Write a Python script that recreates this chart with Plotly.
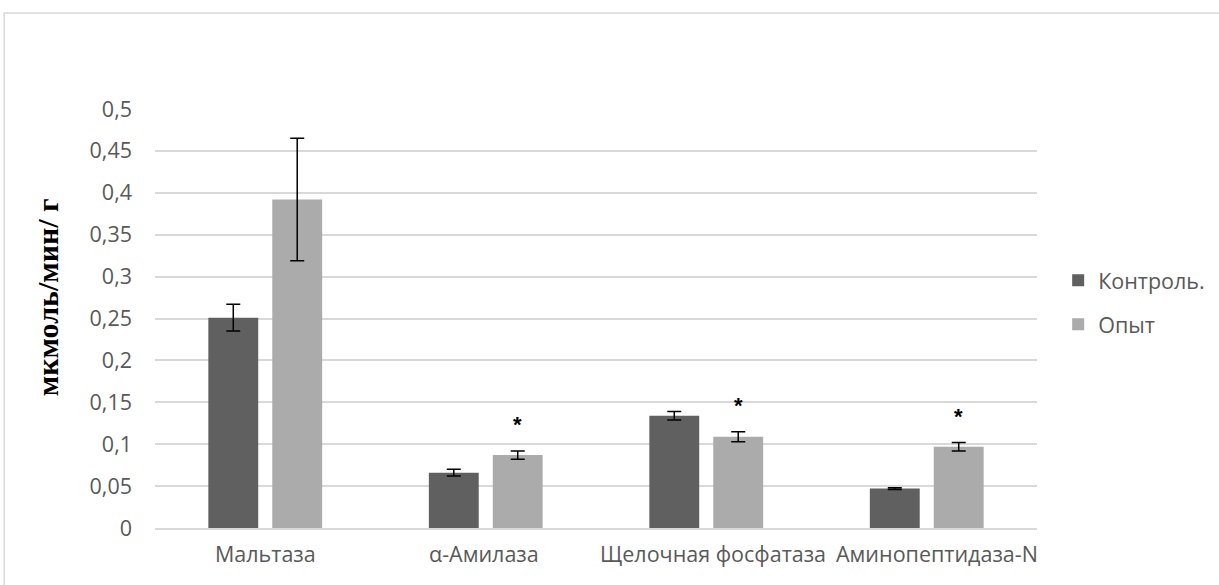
import plotly.graph_objects as go

# Enzyme activity, control vs experiment
categories = ["Мальтаза", "α-Амилаза", "Щелочная фосфатаза", "Аминопептидаза-N"]
control_vals = [0.251, 0.066, 0.134, 0.047]
control_err = [0.016, 0.004, 0.005, 0.001]
exp_vals = [0.392, 0.087, 0.109, 0.097]
exp_err = [0.073, 0.005, 0.006, 0.005]
significant = [False, True, True, True]

y_ticks = [0, 0.05, 0.1, 0.15, 0.2, 0.25, 0.3, 0.35, 0.4, 0.45, 0.5]
y_tick_text = ["0", "0,05", "0,1", "0,15", "0,2", "0,25", "0,3", "0,35", "0,4", "0,45", "0,5"]

# horizontal nudges of the category captions (px)
caption_shift = [0, -2, 7, 10]

label_font = dict(family="Open Sans", size=21.5, color="#595959")

fig = go.Figure()
fig.add_trace(go.Bar(
    x=categories, y=control_vals, name="Контроль.",
    marker=dict(color="#606060", line=dict(width=0)),
    error_y=dict(type="data", array=control_err, color="#000000", thickness=1.5, width=7),
    legendgroup="a",
))
fig.add_trace(go.Bar(
    x=categories, y=exp_vals, name="Опыт",
    marker=dict(color="#ababab", line=dict(width=0)),
    error_y=dict(type="data", array=exp_err, color="#000000", thickness=1.5, width=7),
    legendgroup="b",
))

# significance marks above the experimental bars
for cat, v, e, s in zip(categories, exp_vals, exp_err, significant):
    if s:
        fig.add_annotation(
            x=cat, y=v + e, text="<b>*</b>", showarrow=False,
            xshift=32, yshift=26, yanchor="middle",
            font=dict(family="Liberation Sans", size=22, color="#000000"),
        )

# category captions under the axis
for cat, dx in zip(categories, caption_shift):
    fig.add_annotation(
        x=cat, y=0, yref="paper", text=cat, showarrow=False,
        xshift=dx, yshift=-9, yanchor="top", font=label_font,
    )

# vertical axis caption
fig.add_annotation(
    x=-0.1224, y=0.551, xref="paper", yref="paper",
    text="<b>мкмоль/мин/ г</b>", textangle=-90, showarrow=False,
    xanchor="center", yanchor="middle",
    font=dict(family="Liberation Serif", size=30, color="#000000"),
)

# outer chart frame
fig.add_shape(
    type="rect", xref="paper", yref="paper",
    x0=-0.171, x1=1.25, y0=-0.2, y1=1.229,
    line=dict(color="#d9d9d9", width=1.5), fillcolor="rgba(0,0,0,0)", layer="below",
)

fig.update_layout(
    width=1219, height=585,
    margin=dict(l=155, r=182, t=109, b=57, autoexpand=False),
    paper_bgcolor="#ffffff", plot_bgcolor="#ffffff",
    barmode="group", bargap=0.42, bargroupgap=0.22,
    showlegend=True,
    legend=dict(
        x=1.024, y=0.64, xanchor="left", yanchor="top",
        font=label_font, traceorder="grouped", tracegroupgap=13,
        itemwidth=30,
    ),
    xaxis=dict(
        range=[-0.5, 3.5], automargin=False,
        showgrid=False, showline=True, linecolor="#d9d9d9", linewidth=1.5,
        ticks="", showticklabels=False,
    ),
    yaxis=dict(
        range=[0, 0.5], tickvals=y_ticks, ticktext=y_tick_text, automargin=False,
        showgrid=True, gridcolor="#d9d9d9", gridwidth=1.5,
        zeroline=False, showline=False, ticks="", tickfont=label_font,
        ticklabelstandoff=22,
    ),
)

fig.write_html("out.html")
